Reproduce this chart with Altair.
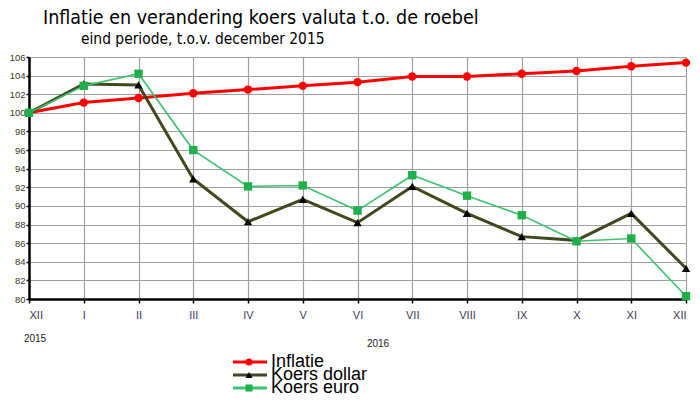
import altair as alt
import pandas as pd

months = ["XII", "I", "II", "III", "IV", "V", "VI", "VII", "VIII", "IX", "X", "XI", "XII"]
series = ["Inflatie", "Koers dollar", "Koers euro"]
inflatie = [100.0, 101.1, 101.6, 102.1, 102.5, 102.9, 103.3, 103.9, 103.9, 104.2, 104.5, 105.0, 105.4]
dollar = [100.0, 103.1, 103.0, 92.9, 88.3, 90.7, 88.2, 92.1, 89.2, 86.7, 86.3, 89.2, 83.3]
euro = [100.0, 102.9, 104.2, 96.0, 92.1, 92.2, 89.5, 93.3, 91.1, 89.0, 86.2, 86.5, 80.3]
years = ["2015", "2016"]
title = "Inflatie en verandering koers valuta t.o. de roebel"
subtitle = "eind periode, t.o.v. december 2015"

line_colors = ["#ff0000", "#3f4a1c", "#3cc46e"]
fill_colors = ["#ff0000", "#000000", "#1fb04c"]
shapes = ["circle", "triangle-up", "square"]

rows = []
for name, vals in zip(series, [inflatie, dollar, euro]):
    for i, v in enumerate(vals):
        rows.append({"idx": i, "series": name, "value": v})
df = pd.DataFrame(rows)

label_expr = "[" + ",".join("'%s'" % m for m in months) + "][datum.value]"
narrow = "DejaVu Sans Condensed, Liberation Sans, sans-serif"

x = alt.X("idx:Q", scale=alt.Scale(domain=[0, 12], nice=False),
          axis=alt.Axis(values=list(range(13)), labelExpr=label_expr, title=None,
                        grid=True, gridColor="#a0a0a0", gridWidth=1.2,
                        domainColor="#000", domainWidth=2.5, tickColor="#000",
                        tickSize=4, tickWidth=1.5, labelFontSize=11, labelColor="#3a3a5a",
                        labelPadding=6, labelFont="Liberation Sans"))
y = alt.Y("value:Q", scale=alt.Scale(domain=[80, 106], nice=False, zero=False),
          axis=alt.Axis(values=list(range(80, 107, 2)), title=None,
                        grid=True, gridColor="#a0a0a0", gridWidth=1.2,
                        domainColor="#000", domainWidth=2.5, tickColor="#000",
                        tickSize=3, tickWidth=1.5, labelFontSize=9.5, labelColor="#3a3a1a",
                        labelPadding=1, labelFont="Liberation Sans"))

base = alt.Chart(df)
lines = base.mark_line().encode(
    x=x, y=y,
    color=alt.Color("series:N", scale=alt.Scale(domain=series, range=line_colors), legend=None),
    strokeWidth=alt.condition(alt.datum.series == "Koers euro", alt.value(1.6), alt.value(3)),
)
points = base.mark_point(filled=True, opacity=1).encode(
    x=x, y=y,
    fill=alt.Fill("series:N", scale=alt.Scale(domain=series, range=fill_colors), legend=None),
    shape=alt.Shape("series:N", scale=alt.Scale(domain=series, range=shapes), legend=None),
    size=alt.value(70),
)

main = alt.layer(lines, points)

# manual legend
leg_df = pd.DataFrame({"series": series})
ly = alt.Y("series:N", scale=alt.Scale(type="point", domain=series, range=[305, 331], padding=0), axis=None)
leg_line = alt.Chart(leg_df).mark_rule().encode(
    x=alt.value(204), x2=alt.value(238), y=ly,
    color=alt.Color("series:N", scale=alt.Scale(domain=series, range=line_colors), legend=None),
    strokeWidth=alt.value(3),
)
leg_pt = alt.Chart(leg_df).mark_point(filled=True, opacity=1).encode(
    x=alt.value(220), y=ly,
    fill=alt.Fill("series:N", scale=alt.Scale(domain=series, range=fill_colors), legend=None),
    shape=alt.Shape("series:N", scale=alt.Scale(domain=series, range=shapes), legend=None),
    size=alt.value(50),
)
leg_txt = alt.Chart(leg_df).mark_text(align="left", baseline="middle", fontSize=18,
                                      font="Liberation Sans", color="#000").encode(
    x=alt.value(242), y=ly, text="series:N")
legend = alt.layer(leg_line, leg_pt, leg_txt)

t_title = alt.Chart(pd.DataFrame({"t": [title]})).mark_text(
    align="left", baseline="alphabetic", fontSize=19.5, font=narrow, color="#000"
).encode(x=alt.value(14), y=alt.value(-33), text="t:N")
t_sub = alt.Chart(pd.DataFrame({"t": [subtitle]})).mark_text(
    align="left", baseline="alphabetic", fontSize=15.4, font=narrow, color="#000"
).encode(x=alt.value(52), y=alt.value(-13), text="t:N")
yr_df = pd.DataFrame({"t": years, "px": [6, 349], "py": [282, 287]})
t_years = alt.Chart(yr_df).mark_text(align="center", baseline="middle", fontSize=10,
                                     font="Liberation Sans", color="#222").encode(
    x=alt.X("px:Q", scale=None), y=alt.Y("py:Q", scale=None), text="t:N")

chart = alt.layer(main, legend, t_title, t_sub, t_years).resolve_scale(
    y="independent", color="independent", fill="independent", shape="independent"
).properties(
    width=657, height=242,
    padding={"left": 21, "top": 49, "right": 6, "bottom": 96},
    autosize=alt.AutoSizeParams(type="none"),
    background="#ffffff",
).configure_view(stroke=None)

chart.save("out.html", embed_options={"renderer": "svg", "actions": False})
